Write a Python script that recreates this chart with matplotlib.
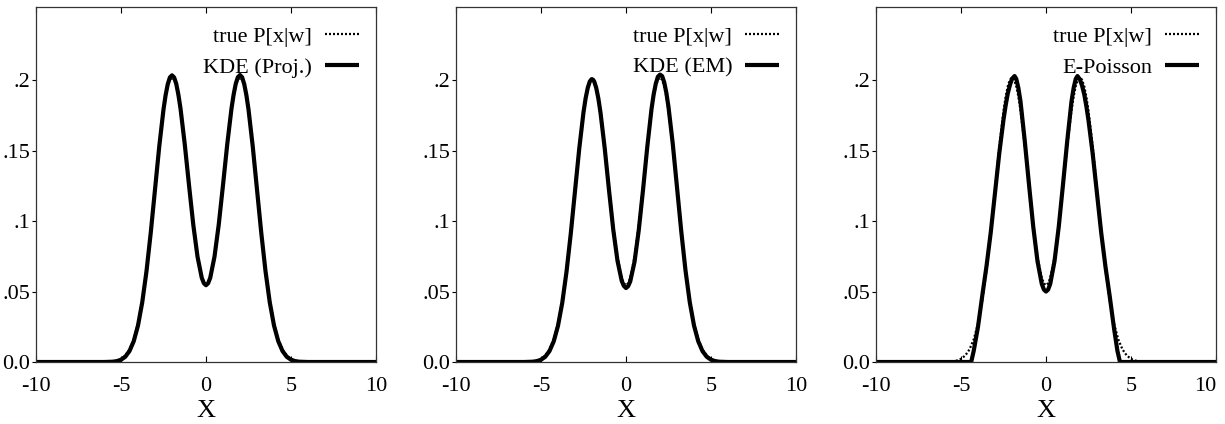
import matplotlib
matplotlib.use('Agg')
import matplotlib.pyplot as plt

plt.rcParams['font.family'] = ['Liberation Serif', 'DejaVu Serif']

# ---------------- data ----------------
x_grid = [-10, -8,
          -6.0, -5.75, -5.5, -5.25, -5.0, -4.75, -4.5, -4.25,
          -4.0, -3.75, -3.5, -3.25, -3.0, -2.75, -2.5, -2.375, -2.25, -2.125,
          -2.0, -1.875, -1.75, -1.625, -1.5, -1.25, -1.0, -0.75, -0.5, -0.25, -0.125,
          0.0,
          0.125, 0.25, 0.5, 0.75, 1.0, 1.25, 1.5, 1.625, 1.75, 1.875, 2.0,
          2.125, 2.25, 2.375, 2.5, 2.75, 3.0, 3.25, 3.5, 3.75, 4.0,
          4.25, 4.5, 4.75, 5.0, 5.25, 5.5, 5.75, 6.0,
          8, 10]

true_vals = [0.0, 0.0,
             0.0001, 0.0002, 0.0004, 0.0010, 0.0022, 0.0046, 0.0089, 0.0161,
             0.0273, 0.0437, 0.0655, 0.0924, 0.1224, 0.1524, 0.1782, 0.1882, 0.1957, 0.2003,
             0.2019, 0.2004, 0.1958, 0.1884, 0.1786, 0.1534, 0.1247, 0.0970, 0.0744, 0.0597, 0.0559,
             0.0545,
             0.0559, 0.0597, 0.0744, 0.0970, 0.1247, 0.1534, 0.1786, 0.1884, 0.1958, 0.2004, 0.2019,
             0.2003, 0.1957, 0.1882, 0.1782, 0.1524, 0.1224, 0.0924, 0.0655, 0.0437, 0.0273,
             0.0161, 0.0089, 0.0046, 0.0022, 0.0010, 0.0004, 0.0002, 0.0001,
             0.0, 0.0]

kde_proj_vals = [0.0, 0.0,
                 0.0, 0.0001, 0.0002, 0.0006, 0.0016, 0.0037, 0.0078, 0.0148,
                 0.0259, 0.0424, 0.0645, 0.0918, 0.1224, 0.1530, 0.1793, 0.1895, 0.1972, 0.2020,
                 0.2035, 0.2020, 0.1975, 0.1898, 0.1800, 0.1546, 0.1256, 0.0976, 0.0748, 0.0598, 0.0559,
                 0.0545,
                 0.0559, 0.0598, 0.0748, 0.0976, 0.1256, 0.1546, 0.1800, 0.1898, 0.1975, 0.2022, 0.2037,
                 0.2021, 0.1972, 0.1895, 0.1793, 0.1530, 0.1224, 0.0918, 0.0645, 0.0424, 0.0259,
                 0.0148, 0.0078, 0.0037, 0.0016, 0.0006, 0.0002, 0.0001, 0.0,
                 0.0, 0.0]

kde_em_vals = [0.0, 0.0,
               0.0, 0.0001, 0.0002, 0.0006, 0.0016, 0.0037, 0.0078, 0.0147,
               0.0257, 0.0420, 0.0640, 0.0910, 0.1213, 0.1515, 0.1773, 0.1872, 0.1946, 0.1993,
               0.2008, 0.1993, 0.1945, 0.1870, 0.1770, 0.1515, 0.1220, 0.0940, 0.0718, 0.0575, 0.0540,
               0.0525,
               0.0538, 0.0572, 0.0710, 0.0935, 0.1220, 0.1525, 0.1795, 0.1898, 0.1975, 0.2025, 0.2040,
               0.2030, 0.1985, 0.1910, 0.1810, 0.1550, 0.1240, 0.0928, 0.0650, 0.0425, 0.0259,
               0.0147, 0.0077, 0.0037, 0.0016, 0.0006, 0.0002, 0.0001, 0.0,
               0.0, 0.0]

epoisson_x = [-10, -4.4, -4.25, -4.0, -3.75, -3.5, -3.25, -3.0, -2.75, -2.5,
              -2.375, -2.25, -2.125, -2.0, -1.85, -1.75, -1.625, -1.5, -1.25, -1.0,
              -0.75, -0.5, -0.25, -0.125,
              0.0,
              0.125, 0.25, 0.5, 0.75, 1.0, 1.25, 1.5, 1.625, 1.75, 1.85,
              2.0, 2.125, 2.25, 2.375, 2.5, 2.75, 3.0, 3.25, 3.5, 3.75,
              4.0, 4.2, 4.35, 10]
epoisson_vals = [0.0, 0.0, 0.0080, 0.0250, 0.0470, 0.0680, 0.0920, 0.1200, 0.1480, 0.1720,
                 0.1820, 0.1905, 0.1965, 0.2010, 0.2030, 0.2010, 0.1945, 0.1850, 0.1570, 0.1260,
                 0.0960, 0.0715, 0.0555, 0.0514,
                 0.0500,
                 0.0514, 0.0555, 0.0715, 0.0960, 0.1260, 0.1570, 0.1850, 0.1945, 0.2010, 0.2030,
                 0.2005, 0.1960, 0.1900, 0.1815, 0.1715, 0.1475, 0.1195, 0.0915, 0.0675, 0.0465,
                 0.0240, 0.0080, 0.0, 0.0]

true_label = 'true P[x|w]'
method_labels = ['KDE (Proj.)', 'KDE (EM)', 'E-Poisson']
x_ticks = [-10, -5, 0, 5, 10]
x_tick_labels = ['-10', '-5', '0', '5', '10']
y_ticks = [0.0, 0.05, 0.1, 0.15, 0.2]
y_tick_labels = ['0.0', '.05', '.1', '.15', '.2']
x_label = 'X'

# ---------------- figure ----------------
W, H = 1225, 424
fig = plt.figure(figsize=(W / 100, H / 100), dpi=100)

series = [(x_grid, kde_proj_vals), (x_grid, kde_em_vals), (epoisson_x, epoisson_vals)]
lefts = [36, 456, 876]
FS = 16

for i, (left, (xs, ys), lab) in enumerate(zip(lefts, series, method_labels)):
    ax = fig.add_axes([left / W, 62 / H, 340 / W, 355 / H])
    ax.plot(x_grid, true_vals, color='black', lw=1.6, dashes=(0.9, 0.9),
            label=true_label, dash_joinstyle='round')
    ax.plot(xs, ys, color='black', lw=3.0, label=lab, solid_capstyle='butt',
            solid_joinstyle='round')
    ax.set_xlim(-10, 10)
    ax.set_ylim(0, 0.252)
    ax.set_xticks(x_ticks)
    ax.set_xticklabels(x_tick_labels)
    ax.set_yticks(y_ticks)
    ax.set_yticklabels(y_tick_labels)
    ax.tick_params(axis='x', direction='in', top=True, bottom=True, length=4,
                   width=0.8, pad=11, labelsize=FS, colors='black')
    ax.tick_params(axis='y', direction='out', left=True, right=False, length=3,
                   width=0.8, pad=1, labelsize=FS)
    if i == len(lefts) - 1:
        # last label kept inside the canvas, as in the reference
        ax.get_xticklabels()[-1].set_horizontalalignment('right')
    for sp in ax.spines.values():
        sp.set_linewidth(0.9)
        sp.set_color('#333333')
    ax.set_xlabel(x_label, fontsize=19, labelpad=2.5)
    ax.legend(loc='upper right', bbox_to_anchor=(0.95, 0.945), frameon=False,
              markerfirst=False, handlelength=1.55, handletextpad=0.55,
              labelspacing=0.45, borderpad=0, borderaxespad=0, fontsize=FS)

fig.savefig('out.png', dpi=100)
